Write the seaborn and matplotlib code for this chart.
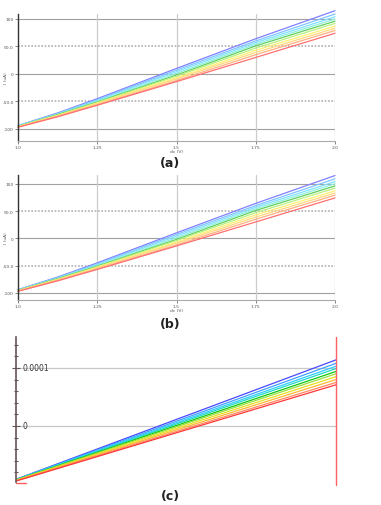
import numpy as np
import pandas as pd
import matplotlib
matplotlib.use("Agg")
import matplotlib.pyplot as plt
import seaborn as sns
from matplotlib.ticker import MultipleLocator

# ---------------- data ----------------
x_ab = [1.0, 1.125, 1.25, 1.5, 1.75, 2.0]
series_names = ["s1", "s2", "s3", "s4", "s5", "s6", "s7", "s8", "s9", "s10"]
s1 = [-94.0, -71.0, -45.0, 10.0, 64.0, 115.0]
s2 = [-94.3, -72.0, -47.0, 7.0, 60.0, 109.0]
s3 = [-94.6, -73.0, -48.0, 4.0, 57.0, 104.0]
s4 = [-95.0, -73.5, -50.0, 1.0, 54.0, 100.0]
s5 = [-95.3, -74.0, -51.0, -2.0, 51.0, 96.0]
s6 = [-95.6, -75.0, -52.0, -4.0, 47.0, 92.0]
s7 = [-96.0, -75.5, -53.0, -7.0, 43.0, 87.0]
s8 = [-96.3, -76.0, -54.0, -9.0, 39.0, 83.0]
s9 = [-96.6, -77.0, -56.0, -12.0, 35.0, 79.0]
s10 = [-97.0, -78.0, -57.0, -14.0, 30.0, 74.0]
ab_values = [s1, s2, s3, s4, s5, s6, s7, s8, s9, s10]

x_c = [1.0, 2.0]
c_start = [-0.92e-4, -0.922e-4, -0.925e-4, -0.928e-4, -0.93e-4, -0.933e-4, -0.936e-4, -0.94e-4, -0.945e-4, -0.95e-4]
c_end = [1.14e-4, 1.08e-4, 1.03e-4, 0.99e-4, 0.94e-4, 0.90e-4, 0.85e-4, 0.80e-4, 0.75e-4, 0.71e-4]

ab_xticks = [1.0, 1.25, 1.5, 1.75, 2.0]
ab_xticklabels = ["1.0", "1.25", "1.5", "1.75", "2.0"]
ab_yticks = [-100, -50, 0, 50, 100]
ab_yticklabels = ["-100", "-50.0", "0", "50.0", "100"]
c_yticks = [0.0, 1e-4]
c_yticklabels = ["0", "0.0001"]

pastel = ["#8080ff", "#80c4ff", "#80e0ff", "#90eee0", "#60d060",
          "#b8f080", "#fff070", "#ffd880", "#ffb080", "#ff7070"]
vivid = ["#4848ff", "#40a0ff", "#30ccff", "#20d8c8", "#10c810",
         "#98e040", "#e8e020", "#ffb830", "#ff8860", "#ff3838"]

# --------------- figure ---------------
sns.set_style("white")
plt.rcParams['font.family'] = ['DejaVu Sans']
fig = plt.figure(figsize=(3.81, 5.06), dpi=100)

def frame(ax_top, ax_bot, left=18, right=335):
    H = 506.0
    W = 381.0
    return [left / W, 1 - ax_bot / H, (right - left) / W, (ax_bot - ax_top) / H]

def long_df(xs, vals):
    rows = []
    for name, v in zip(series_names, vals):
        for xx, yy in zip(xs, v):
            rows.append((name, xx, yy))
    return pd.DataFrame(rows, columns=["series", "x", "y"])

df_ab = long_df(x_ab, ab_values)

def draw_ab(ax, ylim):
    sns.lineplot(data=df_ab, x="x", y="y", hue="series", palette=pastel,
                 ax=ax, legend=False, lw=0.9, clip_on=False, sort=False,
                 estimator=None)
    ax.set_xlim(1.0, 2.0)
    ax.set_ylim(*ylim)
    for yv in ab_yticks:
        if yv in (-50, 50):
            ax.axhline(yv, color="#b0b0b0", lw=1.2, ls=(0, (1, 1)), zorder=0)
        else:
            ax.axhline(yv, color="#a0a0a0", lw=0.8, zorder=0)
    for xv in ab_xticks[1:]:
        ax.axvline(xv, color="#cccccc", lw=0.9, zorder=0)
    for s in ["top", "right"]:
        ax.spines[s].set_visible(False)
    ax.spines["left"].set_color("#333333")
    ax.spines["left"].set_linewidth(1.0)
    ax.spines["bottom"].set_color("#aaaaaa")
    ax.spines["bottom"].set_linestyle((0, (1, 1)))
    ax.set_xticks(ab_xticks)
    ax.set_xticklabels(ab_xticklabels)
    ax.set_yticks(ab_yticks)
    ax.set_yticklabels(ab_yticklabels)
    ax.tick_params(axis="both", labelsize=3.2, length=2, width=0.5,
                   colors="#555555", pad=1, left=True, bottom=True)
    ax.set_xlabel("dc (V)", fontsize=3.2, color="#555555", labelpad=0)
    ax.set_ylabel("I (uA)", fontsize=3.2, color="#555555")
    ax.yaxis.set_label_coords(-0.032, 0.5)

# panel (a)
ax1 = fig.add_axes(frame(15, 142))
draw_ab(ax1, (-122, 109))
fig.text(170 / 381, 1 - 163 / 506, "(a)", ha="center", va="center",
         fontsize=9, fontweight="bold", color="#222222")

# panel (b)
ax2 = fig.add_axes(frame(176, 301))
draw_ab(ax2, (-113, 116))
fig.text(170 / 381, 1 - 325 / 506, "(b)", ha="center", va="center",
         fontsize=9, fontweight="bold", color="#222222")

# panel (c)
ax3 = fig.add_axes(frame(338, 483, left=16, right=336))
rows = []
for name, a, b in zip(series_names, c_start, c_end):
    rows.append((name, x_c[0], a))
    rows.append((name, x_c[1], b))
df_c = pd.DataFrame(rows, columns=["series", "x", "y"])
sns.lineplot(data=df_c, x="x", y="y", hue="series", palette=vivid, ax=ax3,
             legend=False, lw=0.9, estimator=None, sort=False)
ax3.set_xlim(1.0, 2.0)
ax3.set_ylim(-0.966e-4, 1.534e-4)
for yv in c_yticks:
    ax3.axhline(yv, color="#c8c8c8", lw=0.9, zorder=0)
ax3.axvline(2.0, ymin=-0.02, ymax=1.0, color="#ff6060", lw=1.0, clip_on=False)
ax3.plot([1.0, 1.03], [-0.975e-4, -0.975e-4], color="#ff6060", lw=1.0,
         clip_on=False)
for s in ["top", "right", "bottom"]:
    ax3.spines[s].set_visible(False)
ax3.spines["left"].set_color("#665555")
ax3.spines["left"].set_linewidth(1.2)
ax3.set_xticks([])
ax3.set_yticks(c_yticks)
ax3.set_yticklabels([])
ax3.yaxis.set_minor_locator(MultipleLocator(2e-5))
ax3.tick_params(axis="y", which="major", direction="inout", length=6,
                width=0.8, colors="#665555", left=True)
ax3.tick_params(axis="y", which="minor", direction="inout", length=3,
                width=0.8, colors="#665555", left=True)
ax3.set_xlabel("")
ax3.set_ylabel("")
for yv, lab in zip(c_yticks, c_yticklabels):
    ax3.annotate(lab, xy=(0, yv), xycoords=("axes fraction", "data"),
                 xytext=(5, 0), textcoords="offset points", ha="left",
                 va="center", fontsize=5.5, color="#333333")
fig.text(170 / 381, 1 - 497 / 506, "(c)", ha="center", va="center",
         fontsize=9, fontweight="bold", color="#222222")

fig.savefig("out.png", dpi=100)
